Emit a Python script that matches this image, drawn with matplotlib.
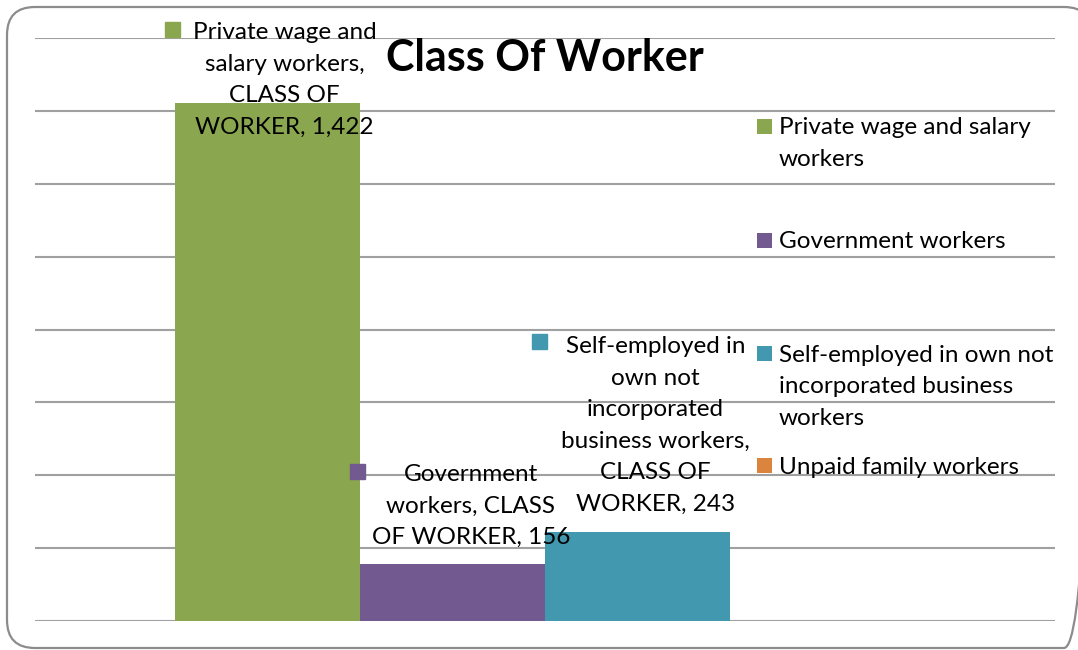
import matplotlib
matplotlib.use("Agg")
import matplotlib.pyplot as plt
import matplotlib.transforms as mtransforms
from matplotlib.patches import FancyBboxPatch
import numpy as np

# ---- data ----
category = "CLASS OF WORKER"
series = ["Private wage and salary workers", "Government workers",
          "Self-employed in own not incorporated business workers",
          "Unpaid family workers"]
values = [1422, 156, 243, 0]
colors = ["#8AA64E", "#72598F", "#4298AF", "#DB843D"]
label_texts = ["Private wage and\nsalary workers,\nCLASS OF\nWORKER, 1,422",
               "Government\nworkers, CLASS\nOF WORKER, 156",
               "Self-employed in\nown not\nincorporated\nbusiness workers,\nCLASS OF\nWORKER, 243",
               ""]
legend_texts = ["Private wage and salary\nworkers", "Government workers",
                "Self-employed in own not\nincorporated business\nworkers",
                "Unpaid family workers"]
title = "Class Of Worker"

W, H = 1078, 650
plt.rcParams['font.family'] = ['Lato', 'DejaVu Sans']
FS = 17.5
LS = 1.62

fig = plt.figure(figsize=(W / 100, H / 100), dpi=100)

# background axes in pixel units for the outer rounded frame
bg = fig.add_axes([0, 0, 1, 1], zorder=-5)
bg.set_xlim(0, W)
bg.set_ylim(H, 0)
bg.axis('off')
fx0, fy0, fx1, fy1 = 7, 7, 1092, 648
bg.add_patch(FancyBboxPatch((fx0, fy0), fx1 - fx0, fy1 - fy0,
                            boxstyle="round,pad=0,rounding_size=28",
                            fill=False, edgecolor="#8C8C8C", linewidth=1.6,
                            clip_on=False))

ax = fig.add_axes([35 / W, 1 - 621 / H, (1055 - 35) / W, (621 - 38) / H])
ax.set_xlim(-0.5, 0.5)
ax.set_ylim(0, 1600)
ax.set_yticks(np.arange(0, 1601, 200))
ax.yaxis.grid(True, color="#A0A0A0", linewidth=1.5)
ax.set_axisbelow(True)
ax.tick_params(left=False, bottom=False, labelleft=False, labelbottom=False)
for s in ax.spines.values():
    s.set_visible(False)
ax.patch.set_alpha(0)

bw = 0.1816
xs = (np.arange(len(values)) - (len(values) - 1) / 2) * bw
ax.bar(xs, values, width=bw, color=colors, linewidth=0)

# data labels (text offsets and square-key offsets in pixels)
text_off = [(17.5, 23), (18.5, 58), (18, 107)]
sq_off = [(-95, 74), (-95, 93), (-98.5, 191.5)]
for i, (x, v, t) in enumerate(zip(xs, values, label_texts)):
    if not t:
        continue
    dx, dy = text_off[i]
    ax.annotate(t, xy=(x, v), xytext=(dx, dy), textcoords='offset pixels',
                ha='center', va='center', multialignment='center',
                fontsize=FS, linespacing=LS, color='black')
    sdx, sdy = sq_off[i]
    tr = ax.transData + mtransforms.ScaledTranslation(sdx / 100, sdy / 100, fig.dpi_scale_trans)
    ax.plot([x], [v], marker='s', markersize=10.8, color=colors[i],
            transform=tr, clip_on=False, linestyle='none')

# title
fig.text(545 / W, 1 - 58 / H, title, ha='center', va='center',
         fontsize=31, fontweight='bold')

# legend (manual)
leg_sq_y = [126.5, 240.5, 353.5, 465.5]
for c, t, sy in zip(colors, legend_texts, leg_sq_y):
    fig.patches.append(plt.Rectangle((757 / W, 1 - (sy + 7.5) / H), 15 / W, 15 / H,
                                     transform=fig.transFigure, color=c, linewidth=0))
    fig.text(779 / W, 1 - (sy - 9) / H, t, ha='left', va='top',
             fontsize=FS, linespacing=LS)

fig.savefig("out.png", dpi=100)
